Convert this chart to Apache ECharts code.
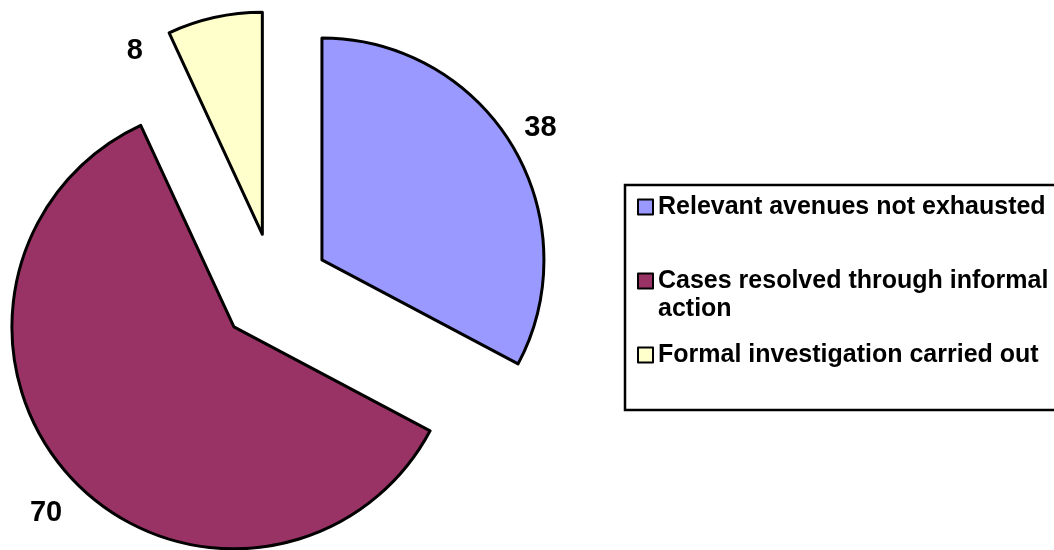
<!DOCTYPE html>
<html>
<head>
<meta charset="utf-8">
<script src="https://cdn.jsdelivr.net/npm/echarts@6/dist/echarts.min.js"></script>
<style>
	html, body { margin: 0; padding: 0; background: #fff; }
	#chart { width: 1054px; height: 550px; }
</style>
</head>
<body>
<div id="chart"></div>
<script>
var categories = ['Relevant avenues not exhausted', 'Cases resolved through informal action', 'Formal investigation carried out'];
var values = [38, 70, 8];
var colors = ['#9999ff', '#993366', '#ffffcc'];
// label placement relative to each slice (label line hidden)
var labelLen = [34, 49, -34];
var labelLen2 = [-22, -30, 74];

var font = "'Liberation Sans', Arial, sans-serif";
var chart = echarts.init(document.getElementById('chart'));

var pieData = [];
values.forEach(function (v, i) {
	pieData.push({
		name: categories[i],
		value: v,
		selected: true,
		itemStyle: { color: colors[i] },
		labelLine: { length: labelLen[i], length2: labelLen2[i] }
	});
});

var option = {
	animation: false,
	legend: {
		orient: 'vertical',
		left: 625,
		top: 185,
		padding: [8, 40, 41, 12],
		itemGap: 18,
		itemWidth: 15,
		itemHeight: 15,
		icon: 'rect',
		borderColor: '#000',
		borderWidth: 2.5,
		selectedMode: false,
		itemStyle: { borderWidth: 2, borderColor: '#000' },
		textStyle: {
			fontFamily: font,
			fontSize: 25,
			fontWeight: 'bold',
			color: '#000',
			lineHeight: 28
		},
		formatter: function (name) {
			// second entry wraps onto two lines, marker stays on the first
			if (name === categories[1]) {
				return '\nCases resolved through informal\naction';
			}
			return name;
		},
		data: categories
	},
	series: [
		{
			type: 'pie',
			center: [274.3, 288.6],
			radius: 222,
			startAngle: 90,
			clockwise: true,
			selectedMode: 'multiple',
			selectedOffset: 55.6,
			avoidLabelOverlap: false,
			itemStyle: {
				borderColor: '#000',
				borderWidth: 3
			},
			select: {
				itemStyle: { borderColor: '#000', borderWidth: 3 }
			},
			label: {
				show: true,
				position: 'outside',
				formatter: '{c}',
				fontFamily: font,
				fontSize: 29,
				fontWeight: 'bold',
				color: '#000'
			},
			labelLine: { show: false },
			emphasis: { disabled: true },
			data: pieData
		}
	]
};
chart.setOption(option);
</script>
</body>
</html>
